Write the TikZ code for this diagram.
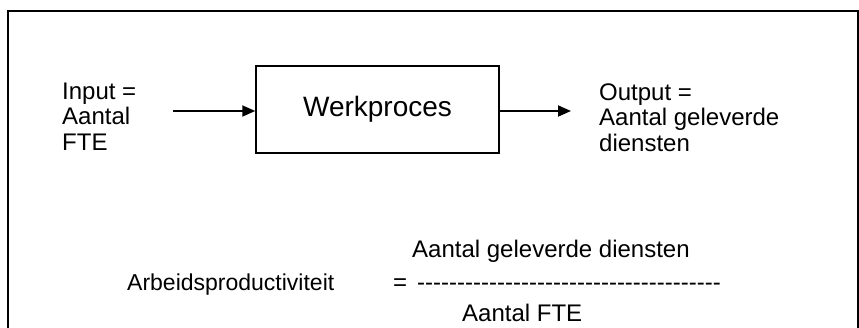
\documentclass[tikz,border=0pt]{standalone}
\usepackage{fontspec}
\newfontfamily\arial{Liberation Sans}
\usetikzlibrary{arrows.meta}
\newcommand\hyphenrun[1]{\foreach \k in {1,...,#1}{-\kern0pt}}
\begin{document}
\begin{tikzpicture}[x=1pt,y=-1pt,
  lbl/.style={font=\arial\fontsize{24}{25.5}\selectfont, inner sep=0pt, align=left, anchor=base west},
  procbox/.style={draw, line width=1.5pt, minimum width=243pt, minimum height=87pt, inner sep=0pt,
    font=\arial\fontsize{28}{30}\selectfont},
  flow/.style={line width=1.8pt, -{Triangle[length=13pt,width=11pt]}}]
\useasboundingbox (0,0) rectangle (859,327);
% outer frame, open at the bottom
\draw[line width=2pt] (8,330) -- (8,11) -- (858,11) -- (858,330);
% process block and its flows
\node[procbox] (wp) at (377.5,109.5) {Werkproces};
\coordinate (inL) at (173,111);
\coordinate (outR) at (571,111);
\draw[flow] (inL) -- (inL -| wp.west);
\draw[flow] (outR -| wp.east) -- (outR);
% multi-line labels are placed by the baseline of their last line
\node[lbl] (input) at (62,150) {Input =\\Aantal\\FTE};
\node[lbl] (output) at (599,151) {Output =\\Aantal geleverde\\diensten};
% productivity formula
\node[lbl, font=\arial\fontsize{23}{25}\selectfont] (ap) at (127,290) {Arbeidsproductiviteit};
\node[lbl] (eq) at (393,290) {=};
\node[lbl] (bar) at (417,290) {\hyphenrun{38}};
\node[lbl] (num) at (412,257) {Aantal geleverde diensten};
\node[lbl] (den) at (462,321) {Aantal FTE};
\end{tikzpicture}
\end{document}
